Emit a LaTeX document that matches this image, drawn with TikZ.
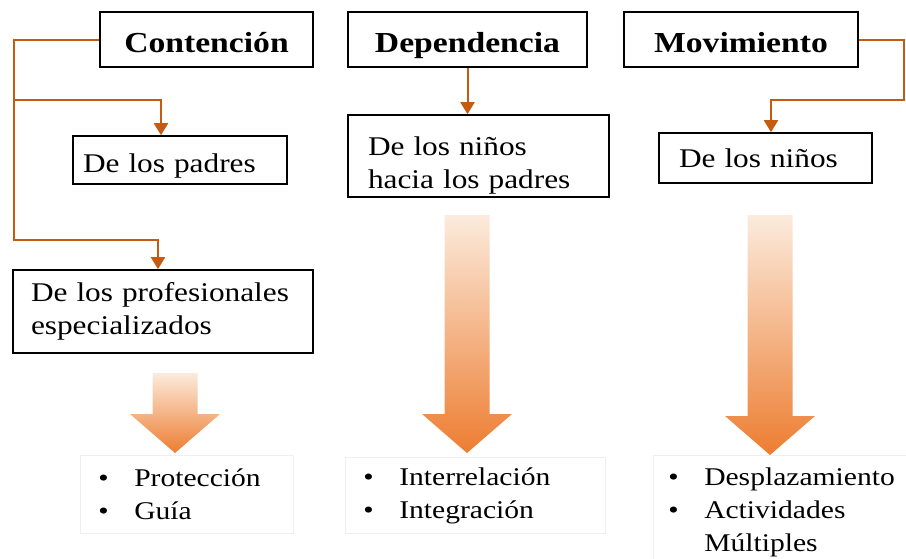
\documentclass[tikz,border=0pt]{standalone}
\usepackage{fontspec}
\setmainfont{Liberation Serif}[FakeStretch=1.16]
\usetikzlibrary{arrows.meta}
\definecolor{linkOrange}{HTML}{C55A11}
\definecolor{fadeTop}{HTML}{FCEBDD}
\definecolor{fadeBot}{HTML}{ED7D31}
\definecolor{listRule}{HTML}{EFEFEF}
% fat shaded down arrow: centre x, top y, tip y
\newcommand{\fatarrow}[3]{%
  \shade[top color=fadeTop,bottom color=fadeBot]
    ({#1-22.5},#2) -- ({#1+22.5},#2) -- ({#1+22.5},{#3-39}) -- ({#1+45},{#3-39})
    -- (#1,#3) -- ({#1-45},{#3-39}) -- ({#1-22.5},{#3-39}) -- cycle;}
\tikzset{
  head/.style={draw,line width=1.6pt,minimum height=55pt,inner sep=0pt,
               text height=25pt,text depth=0pt,
               font=\fontsize{29}{33}\selectfont\bfseries},
  sub/.style={draw,line width=1.6pt,align=left,inner xsep=20pt,inner ysep=0pt,
              font=\fontsize{27}{33}\selectfont},
  list/.style={draw=listRule,line width=0.8pt,align=left,inner xsep=18pt,inner ysep=0pt,
               anchor=north west,font=\fontsize{25.5}{33}\selectfont},
  link/.style={draw=linkOrange,line width=2pt,-{Triangle[width=14pt,length=12pt]}},
}
\begin{document}
\hyphenpenalty=10000
\begin{tikzpicture}[x=1pt,y=-1pt]
    \useasboundingbox (0,0) rectangle (906,558);
    % --- headings
    \node[head,minimum width=213pt] at (206.5,39.5) (cont) {Contención};
    \node[head,minimum width=239pt] at (467.5,39.5) (dep)  {Dependencia};
    \node[head,minimum width=234pt] at (741,39.5)   (mov)  {Movimiento};
    % --- sub boxes
    \node[sub,inner xsep=10pt,text width=194pt,minimum height=48pt,text height=24pt,text depth=0pt]
      at (180,160) (padres) {De los padres};
    \node[sub,text width=221pt,minimum height=82pt] at (478.5,156) (ninpad)
      {\rule{0pt}{38pt}De los niños\\hacia los padres};
    \node[sub,text width=173pt,minimum height=50pt,text height=18pt,text depth=0pt]
      at (765.5,158) (ninos) {De los niños};
    \node[sub,inner xsep=18pt,text width=264pt,minimum height=83pt] at (163,311.5) (prof) {De los profesionales\\especializados};
    % --- connectors
    \coordinate (cL)  at (14,100);
    \coordinate (cL2) at (14,240);
    \coordinate (cR)  at (904,100);
    \draw[link] (cont.west) -| (cL) -| ([xshift=-19pt]padres.north);
    \draw[link] (cL) -- (cL2) -| ([xshift=-5pt]prof.north);
    \draw[link] (dep.south) -- (ninpad.north -| dep.south);
    \draw[link] (mov.east) -| (cR) -| ([xshift=5.5pt]ninos.north);
    % --- fat arrows
    \fatarrow{175}{373}{453}
    \fatarrow{467}{215}{453}
    \fatarrow{770}{215}{455}
    % --- lists
    \node[list,text width=177pt,minimum width=213pt,minimum height=78pt] at (80,455) (lsL)
      {\textbullet\quad Protección\\\textbullet\quad Guía};
    \node[list,text width=224pt,minimum width=260pt,minimum height=76pt] at (345,457) (lsM)
      {\textbullet\quad Interrelación\\\textbullet\quad Integración};
    \node[list,inner xsep=15pt,text width=250pt,minimum width=280pt,minimum height=114pt] at (653,455) (lsR)
      {\textbullet\quad Desplazamiento\\\textbullet\quad Actividades\\\phantom{\textbullet\quad}Múltiples};
\end{tikzpicture}
\end{document}
